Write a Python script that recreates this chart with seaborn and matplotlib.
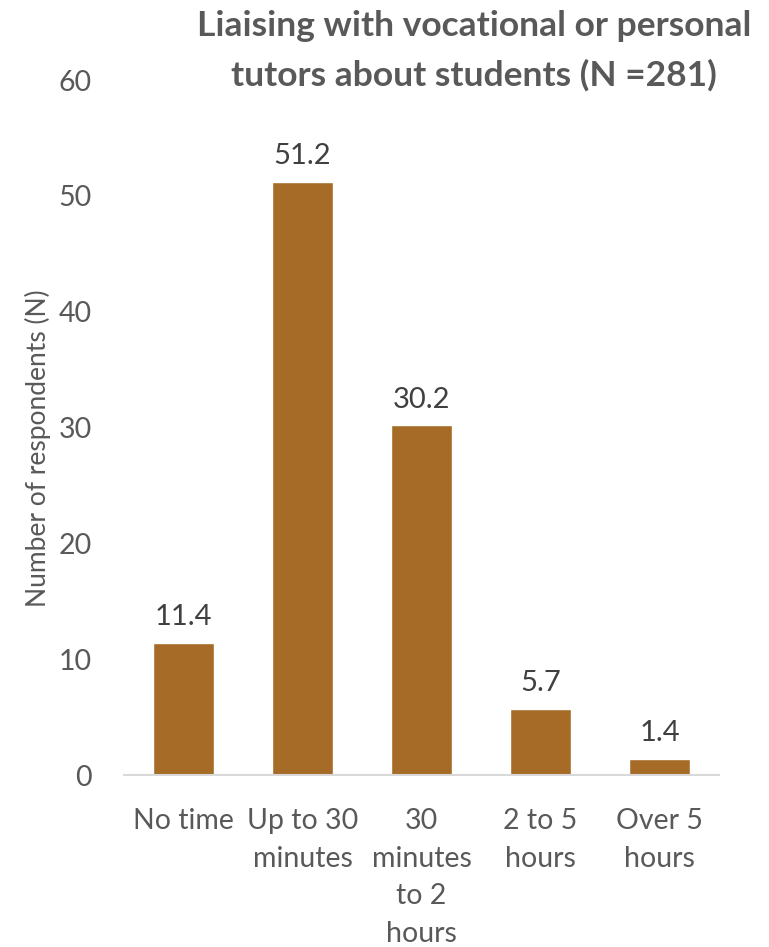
import matplotlib
matplotlib.use("Agg")
import matplotlib.pyplot as plt
import seaborn as sns
import pandas as pd

categories = ["No time", "Up to 30 minutes", "30 minutes to 2 hours", "2 to 5 hours", "Over 5 hours"]
tick_labels = ["No time", "Up to 30\nminutes", "30\nminutes\nto 2\nhours", "2 to 5\nhours", "Over 5\nhours"]
values = [11.4, 51.2, 30.2, 5.7, 1.4]
y_ticks = [0, 10, 20, 30, 40, 50, 60]

sns.set_theme(style="white")
plt.rcParams["font.family"] = ["Lato", "DejaVu Sans"]

text_color = "#595959"
bar_color = "#A56B27"

df = pd.DataFrame({"category": categories, "value": values})

fig = plt.figure(figsize=(7.69, 9.47), dpi=100)
ax = fig.add_axes([124 / 769, 1 - 775 / 947, 595 / 769, 695 / 947])

sns.barplot(data=df, x="category", y="value", color=bar_color, saturation=1,
            width=0.51, ax=ax)

ax.set_ylim(0, 60)
ax.set_xlim(-0.5, len(categories) - 0.5)
ax.set_yticks(y_ticks)
ax.set_yticklabels([str(t) for t in y_ticks], fontsize=20.5, color=text_color)
ax.set_xticks(range(len(categories)))
ax.set_xticklabels(tick_labels, fontsize=20.5, color=text_color, linespacing=1.55,
                   va="top")
ax.tick_params(axis="y", length=0, pad=23)
ax.tick_params(axis="x", length=0, pad=24)
ax.set_xlabel("")
ax.set_ylabel("Number of respondents (N)", fontsize=19, color=text_color)
ax.yaxis.set_label_coords(-0.122, 0.47)

for side in ["top", "right", "left"]:
    ax.spines[side].set_visible(False)
ax.spines["bottom"].set_color("#D9D9D9")
ax.spines["bottom"].set_linewidth(1.5)
ax.grid(False)

for i, v in enumerate(values):
    ax.annotate(f"{v:.1f}", (i, v), xytext=(0, 9), textcoords="offset points",
                ha="center", va="bottom", fontsize=21, color="#404040")

fig.text(474 / 769, 1 - 10 / 947,
         "Liaising with vocational or personal\ntutors about students (N =281)",
         ha="center", va="top", fontsize=25.5, fontweight="bold", color=text_color,
         linespacing=1.62)

fig.savefig("out.png", dpi=100)
